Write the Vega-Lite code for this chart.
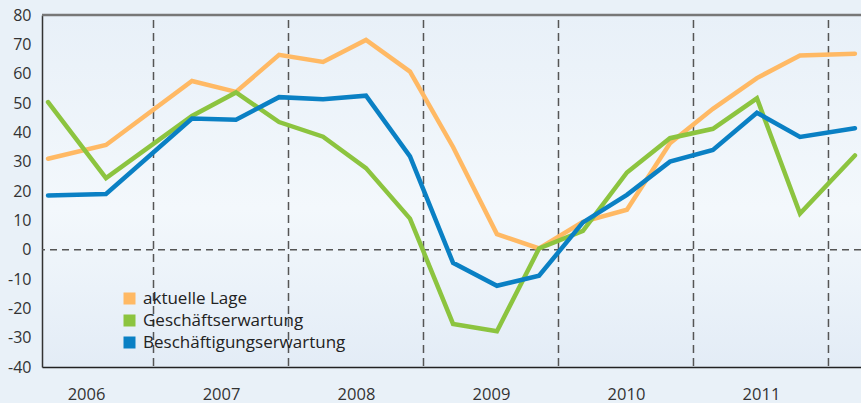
{
  "$schema": "https://vega.github.io/schema/vega-lite/v6.json",
  "width": 819,
  "height": 352,
  "autosize": {"type": "none"},
  "padding": {"left": 42, "top": 15, "right": 0, "bottom": 36},
  "background": "#e9f1f8",
  "config": {
    "view": {"stroke": null, "fill": {"gradient": "linear", "x1": 0, "y1": 0, "x2": 0, "y2": 1, "stops": [{"offset": 0, "color": "#e8f0f8"}, {"offset": 0.55, "color": "#f3f8fc"}, {"offset": 1, "color": "#e3ecf6"}]}},
    "font": "Open Sans",
    "axis": {"ticks": false, "grid": false, "labelFont": "Open Sans", "labelColor": "#333333", "labelFlush": false, "labelOverlap": false, "domainWidth": 1.5},
    "axisX": {"domainColor": "#222222", "labelFontSize": 16.5, "labelBaseline": "alphabetic", "labelPadding": 32},
    "axisY": {"domainColor": "#333333", "labelFontSize": 16, "labelPadding": 11}
  },
  "datasets": {
    "series": [
      {"t": 2006.219, "serie": "aktuelle Lage", "wert": 31},
      {"t": 2006.648, "serie": "aktuelle Lage", "wert": 35.7},
      {"t": 2007.285, "serie": "aktuelle Lage", "wert": 57.5},
      {"t": 2007.611, "serie": "aktuelle Lage", "wert": 53.8},
      {"t": 2007.930, "serie": "aktuelle Lage", "wert": 66.4},
      {"t": 2008.256, "serie": "aktuelle Lage", "wert": 64},
      {"t": 2008.574, "serie": "aktuelle Lage", "wert": 71.5},
      {"t": 2008.900, "serie": "aktuelle Lage", "wert": 60.7},
      {"t": 2009.219, "serie": "aktuelle Lage", "wert": 35},
      {"t": 2009.544, "serie": "aktuelle Lage", "wert": 5.3},
      {"t": 2009.856, "serie": "aktuelle Lage", "wert": 0.4},
      {"t": 2010.181, "serie": "aktuelle Lage", "wert": 9.5},
      {"t": 2010.507, "serie": "aktuelle Lage", "wert": 13.6},
      {"t": 2010.826, "serie": "aktuelle Lage", "wert": 36.3},
      {"t": 2011.144, "serie": "aktuelle Lage", "wert": 48},
      {"t": 2011.470, "serie": "aktuelle Lage", "wert": 58.5},
      {"t": 2011.789, "serie": "aktuelle Lage", "wert": 66.2},
      {"t": 2012.196, "serie": "aktuelle Lage", "wert": 66.8},
      {"t": 2006.219, "serie": "Geschäftserwartung", "wert": 50.3},
      {"t": 2006.648, "serie": "Geschäftserwartung", "wert": 24.4},
      {"t": 2007.285, "serie": "Geschäftserwartung", "wert": 45.6},
      {"t": 2007.611, "serie": "Geschäftserwartung", "wert": 53.6},
      {"t": 2007.930, "serie": "Geschäftserwartung", "wert": 43.5},
      {"t": 2008.256, "serie": "Geschäftserwartung", "wert": 38.5},
      {"t": 2008.574, "serie": "Geschäftserwartung", "wert": 27.8},
      {"t": 2008.900, "serie": "Geschäftserwartung", "wert": 10.6},
      {"t": 2009.219, "serie": "Geschäftserwartung", "wert": -25.3},
      {"t": 2009.544, "serie": "Geschäftserwartung", "wert": -27.8},
      {"t": 2009.856, "serie": "Geschäftserwartung", "wert": 0.4},
      {"t": 2010.181, "serie": "Geschäftserwartung", "wert": 6.4},
      {"t": 2010.507, "serie": "Geschäftserwartung", "wert": 26.3},
      {"t": 2010.826, "serie": "Geschäftserwartung", "wert": 38},
      {"t": 2011.144, "serie": "Geschäftserwartung", "wert": 41.2},
      {"t": 2011.470, "serie": "Geschäftserwartung", "wert": 51.6},
      {"t": 2011.789, "serie": "Geschäftserwartung", "wert": 12.3},
      {"t": 2012.196, "serie": "Geschäftserwartung", "wert": 32.1},
      {"t": 2006.219, "serie": "Beschäftigungserwartung", "wert": 18.5},
      {"t": 2006.648, "serie": "Beschäftigungserwartung", "wert": 19},
      {"t": 2007.285, "serie": "Beschäftigungserwartung", "wert": 44.7},
      {"t": 2007.611, "serie": "Beschäftigungserwartung", "wert": 44.3},
      {"t": 2007.930, "serie": "Beschäftigungserwartung", "wert": 52},
      {"t": 2008.256, "serie": "Beschäftigungserwartung", "wert": 51.3},
      {"t": 2008.574, "serie": "Beschäftigungserwartung", "wert": 52.5},
      {"t": 2008.900, "serie": "Beschäftigungserwartung", "wert": 31.8},
      {"t": 2009.219, "serie": "Beschäftigungserwartung", "wert": -4.5},
      {"t": 2009.544, "serie": "Beschäftigungserwartung", "wert": -12.3},
      {"t": 2009.856, "serie": "Beschäftigungserwartung", "wert": -8.9},
      {"t": 2010.181, "serie": "Beschäftigungserwartung", "wert": 9.3},
      {"t": 2010.507, "serie": "Beschäftigungserwartung", "wert": 18.7},
      {"t": 2010.826, "serie": "Beschäftigungserwartung", "wert": 30},
      {"t": 2011.144, "serie": "Beschäftigungserwartung", "wert": 34},
      {"t": 2011.470, "serie": "Beschäftigungserwartung", "wert": 46.7},
      {"t": 2011.789, "serie": "Beschäftigungserwartung", "wert": 38.4},
      {"t": 2012.196, "serie": "Beschäftigungserwartung", "wert": 41.4}
    ],
    "grenzen": [
      {"jahr": 2007}, {"jahr": 2008}, {"jahr": 2009}, {"jahr": 2010}, {"jahr": 2011}, {"jahr": 2012}
    ]
  },
  "layer": [
    {
      "data": {"values": [{"wert": 0}]},
      "mark": {"type": "rule", "color": "#555555", "strokeWidth": 1.5, "strokeDash": [7, 5]},
      "encoding": {"y": {"field": "wert", "type": "quantitative"}}
    },
    {
      "data": {"values": [{"wert": 80}]},
      "mark": {"type": "rule", "color": "#777777", "strokeWidth": 2.5},
      "encoding": {"y": {"field": "wert", "type": "quantitative"}}
    },
    {
      "data": {"name": "grenzen"},
      "mark": {"type": "rule", "color": "#555555", "strokeWidth": 1.5, "strokeDash": [8, 5], "yOffset": 5, "y2Offset": 36},
      "encoding": {
        "x": {"field": "jahr", "type": "quantitative"}
      }
    },
    {
      "data": {"name": "series"},
      "mark": {"type": "line", "strokeWidth": 4.5, "strokeCap": "round"},
      "encoding": {
        "x": {"field": "t", "type": "quantitative", "title": null,
          "scale": {"domain": [2006.174, 2012.241], "nice": false, "zero": false},
          "axis": {"values": [2006.5, 2007.5, 2008.5, 2009.5, 2010.5, 2011.5], "labelExpr": "'' + floor(datum.value)", "title": null}},
        "y": {"field": "wert", "type": "quantitative", "title": null,
          "scale": {"domain": [-40, 80], "nice": false, "zero": false},
          "axis": {"values": [-40, -30, -20, -10, 0, 10, 20, 30, 40, 50, 60, 70, 80], "labelExpr": "'' + datum.value", "title": null, "labelOverlap": false, "tickCount": 13}},
        "color": {"field": "serie", "type": "nominal",
          "scale": {"domain": ["aktuelle Lage", "Geschäftserwartung", "Beschäftigungserwartung"], "range": ["#ffb964", "#8cc43f", "#0a80c4"]},
          "legend": {"title": null, "orient": "none", "legendX": 79, "legendY": 275, "padding": 0,
            "symbolType": "square", "symbolSize": 144, "labelFont": "Open Sans", "labelFontSize": 17, "labelColor": "#222222", "labelOffset": 5, "rowPadding": 4, "labelLimit": 400,
            "encode": {"symbols": {"update": {"fill": {"scale": "color", "field": "value"}, "strokeWidth": {"value": 0}}}}}}
      }
    }
  ]
}
